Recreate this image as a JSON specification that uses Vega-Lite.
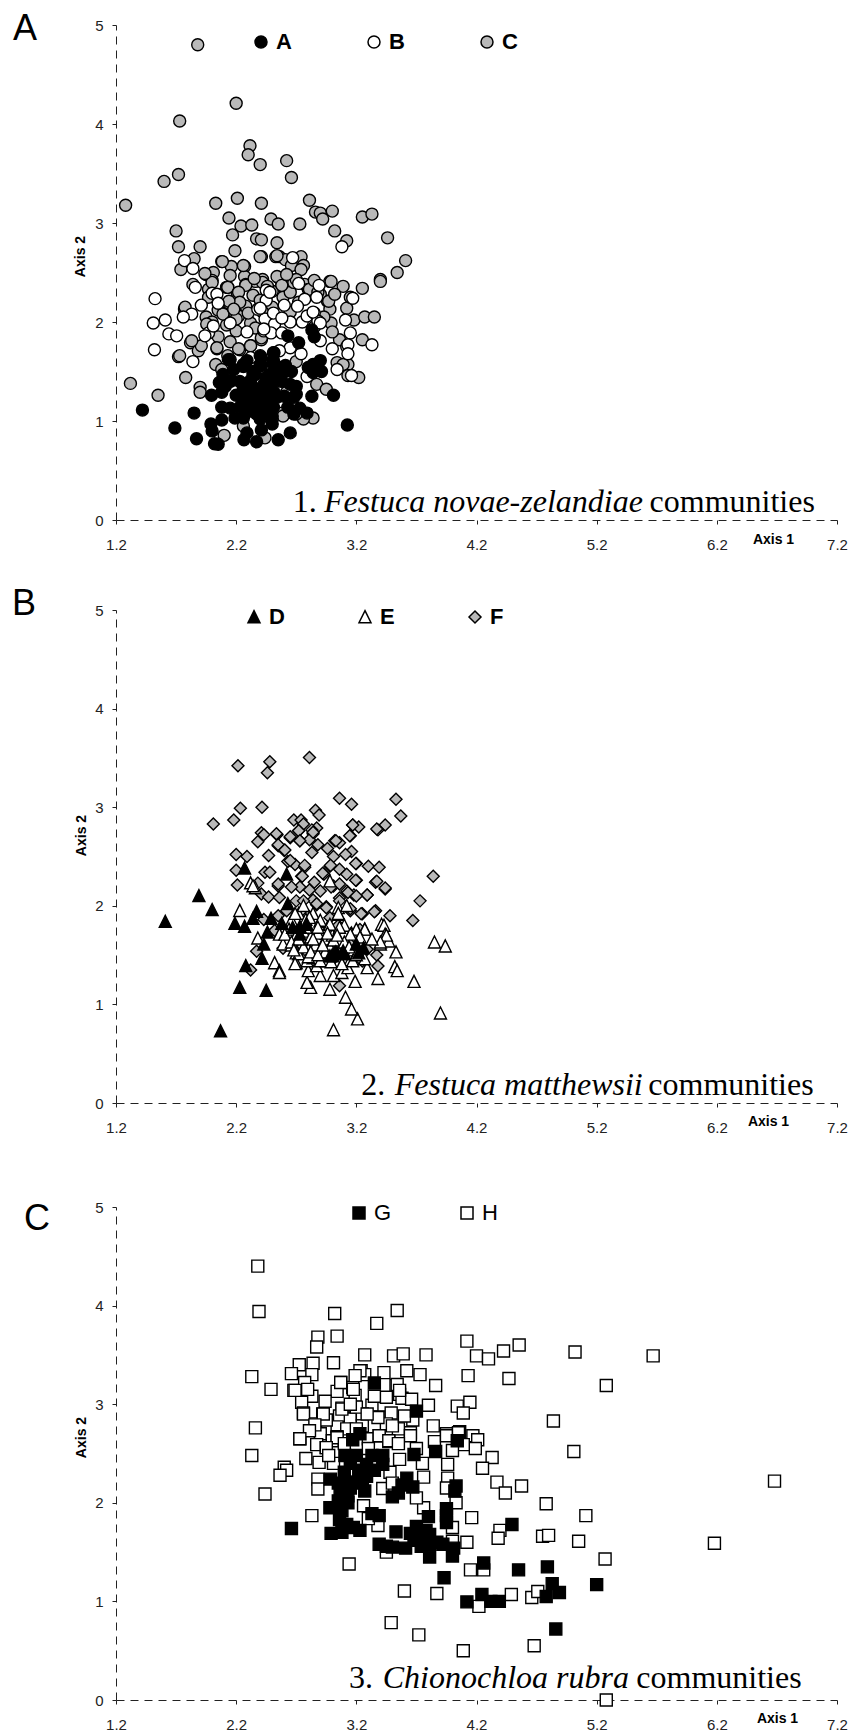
{"$schema":"https://vega.github.io/schema/vega-lite/v6.json","padding":{"left":12,"top":10,"right":0,"bottom":0},"background":"white","config":{"font":"Liberation Sans","view":{"stroke":null},"axis":{"grid":false,"labelFlush":false,"domainColor":"#222","domainDash":[8,6],"domainWidth":1,"tickColor":"#222","tickSize":4,"labelFontSize":15,"labelColor":"#222","titleFontSize":14,"titleFontWeight":"bold","titleColor":"#000"},"legend":{"orient":"none","direction":"horizontal","title":null,"columns":3,"padding":0,"labelFontSize":22,"labelColor":"#000","symbolOpacity":1,"labelOffset":4}},"datasets":{"p1":[
{"x":1.88,"y":4.8,"g":"C"},{"x":2.2,"y":4.21,"g":"C"},{"x":1.73,"y":4.03,"g":"C"},{"x":2.315,"y":3.78,"g":"C"},{"x":2.3,"y":3.69,"g":"C"},{"x":2.4,"y":3.59,"g":"C"},{"x":2.62,"y":3.63,"g":"C"},{"x":2.66,"y":3.46,"g":"C"},{"x":1.72,"y":3.49,"g":"C"},{"x":1.6,"y":3.42,"g":"C"},{"x":1.28,"y":3.18,"g":"C"},{"x":2.03,"y":3.2,"g":"C"},{"x":2.21,"y":3.25,"g":"C"},{"x":2.41,"y":3.2,"g":"C"},{"x":2.81,"y":3.23,"g":"C"},{"x":2.86,"y":3.11,"g":"C"},{"x":2.9,"y":3.1,"g":"C"},{"x":3.0,"y":3.12,"g":"C"},{"x":2.92,"y":3.04,"g":"C"},{"x":3.25,"y":3.06,"g":"C"},{"x":3.33,"y":3.09,"g":"C"},{"x":3.02,"y":2.92,"g":"C"},{"x":3.12,"y":2.82,"g":"C"},{"x":3.46,"y":2.85,"g":"C"},{"x":3.61,"y":2.62,"g":"C"},{"x":3.54,"y":2.5,"g":"C"},{"x":3.4,"y":2.43,"g":"C"},{"x":2.14,"y":3.05,"g":"C"},{"x":2.24,"y":2.97,"g":"C"},{"x":2.33,"y":2.98,"g":"C"},{"x":2.49,"y":3.04,"g":"C"},{"x":2.55,"y":2.99,"g":"C"},{"x":2.73,"y":2.99,"g":"C"},{"x":1.7,"y":2.92,"g":"C"},{"x":1.72,"y":2.76,"g":"C"},{"x":1.9,"y":2.76,"g":"C"},{"x":2.17,"y":2.88,"g":"C"},{"x":2.37,"y":2.84,"g":"C"},{"x":2.41,"y":2.83,"g":"C"},{"x":2.54,"y":2.8,"g":"C"},{"x":2.19,"y":2.72,"g":"C"},{"x":2.41,"y":2.66,"g":"C"},{"x":2.53,"y":2.66,"g":"C"},{"x":2.56,"y":2.66,"g":"C"},{"x":2.61,"y":2.63,"g":"C"},{"x":2.74,"y":2.66,"g":"C"},{"x":2.66,"y":2.57,"g":"C"},{"x":2.76,"y":2.57,"g":"C"},{"x":2.74,"y":2.53,"g":"C"},{"x":2.08,"y":2.61,"g":"C"},{"x":1.85,"y":2.64,"g":"C"},{"x":1.74,"y":2.53,"g":"C"},{"x":1.95,"y":2.48,"g":"C"},{"x":2.01,"y":2.5,"g":"C"},{"x":2.0,"y":2.42,"g":"C"},{"x":2.16,"y":2.56,"g":"C"},{"x":2.15,"y":2.47,"g":"C"},{"x":2.27,"y":2.56,"g":"C"},{"x":2.27,"y":2.46,"g":"C"},{"x":2.28,"y":2.38,"g":"C"},{"x":2.42,"y":2.43,"g":"C"},{"x":2.36,"y":2.41,"g":"C"},{"x":2.55,"y":2.45,"g":"C"},{"x":2.58,"y":2.37,"g":"C"},{"x":2.12,"y":2.35,"g":"C"},{"x":1.97,"y":2.33,"g":"C"},{"x":1.84,"y":2.38,"g":"C"},{"x":2.98,"y":2.41,"g":"C"},{"x":2.77,"y":2.38,"g":"C"},{"x":2.8,"y":2.33,"g":"C"},{"x":3.09,"y":2.36,"g":"C"},{"x":3.25,"y":2.34,"g":"C"},{"x":1.77,"y":2.13,"g":"C"},{"x":1.82,"y":1.79,"g":"C"},{"x":1.885,"y":1.71,"g":"C"},{"x":1.91,"y":1.76,"g":"C"},{"x":1.72,"y":1.65,"g":"C"},{"x":1.78,"y":1.44,"g":"C"},{"x":1.32,"y":1.38,"g":"C"},{"x":1.55,"y":1.26,"g":"C"},{"x":1.9,"y":1.34,"g":"C"},{"x":1.9,"y":1.29,"g":"C"},{"x":2.04,"y":1.73,"g":"C"},{"x":2.03,"y":1.57,"g":"C"},{"x":2.08,"y":1.52,"g":"C"},{"x":2.13,"y":1.66,"g":"C"},{"x":2.23,"y":1.72,"g":"C"},{"x":2.32,"y":1.76,"g":"C"},{"x":2.41,"y":1.82,"g":"C"},{"x":1.96,"y":1.98,"g":"C"},{"x":1.97,"y":2.25,"g":"C"},{"x":2.0,"y":2.4,"g":"C"},{"x":2.13,"y":2.35,"g":"C"},{"x":2.21,"y":2.29,"g":"C"},{"x":2.14,"y":2.19,"g":"C"},{"x":2.23,"y":2.19,"g":"C"},{"x":2.28,"y":2.16,"g":"C"},{"x":2.28,"y":2.37,"g":"C"},{"x":2.34,"y":2.27,"g":"C"},{"x":2.1,"y":2.08,"g":"C"},{"x":2.22,"y":2.06,"g":"C"},{"x":2.12,"y":1.97,"g":"C"},{"x":2.2,"y":1.91,"g":"C"},{"x":2.32,"y":1.99,"g":"C"},{"x":2.36,"y":1.94,"g":"C"},{"x":2.42,"y":2.4,"g":"C"},{"x":2.58,"y":2.36,"g":"C"},{"x":2.5,"y":2.31,"g":"C"},{"x":2.59,"y":2.25,"g":"C"},{"x":2.81,"y":2.33,"g":"C"},{"x":2.96,"y":2.21,"g":"C"},{"x":2.98,"y":2.13,"g":"C"},{"x":3.4,"y":2.41,"g":"C"},{"x":3.12,"y":2.14,"g":"C"},{"x":2.99,"y":1.99,"g":"C"},{"x":3.18,"y":2.02,"g":"C"},{"x":3.27,"y":2.05,"g":"C"},{"x":3.35,"y":2.05,"g":"C"},{"x":3.06,"y":1.82,"g":"C"},{"x":3.25,"y":1.82,"g":"C"},{"x":3.04,"y":1.59,"g":"C"},{"x":3.13,"y":1.57,"g":"C"},{"x":3.09,"y":1.57,"g":"C"},{"x":3.13,"y":1.46,"g":"C"},{"x":3.22,"y":1.44,"g":"C"},{"x":2.87,"y":1.37,"g":"C"},{"x":2.84,"y":1.03,"g":"C"},{"x":2.76,"y":1.02,"g":"C"},{"x":2.7,"y":1.07,"g":"C"},{"x":2.62,"y":1.29,"g":"C"},{"x":2.58,"y":1.08,"g":"C"},{"x":2.26,"y":0.95,"g":"C"},{"x":2.1,"y":0.855,"g":"C"},{"x":2.44,"y":0.83,"g":"C"},{"x":2.59,"y":1.05,"g":"C"},{"x":2.5,"y":1.02,"g":"C"},{"x":2.65,"y":2.3,"g":"C"},{"x":2.72,"y":2.2,"g":"C"},{"x":2.85,"y":2.42,"g":"C"},{"x":2.93,"y":2.05,"g":"C"},{"x":3.0,"y":1.9,"g":"C"},{"x":2.85,"y":1.95,"g":"C"},{"x":2.5,"y":2.15,"g":"C"},{"x":2.42,"y":2.1,"g":"C"},{"x":2.65,"y":2.1,"g":"C"},{"x":2.5,"y":1.98,"g":"C"},{"x":2.05,"y":2.12,"g":"C"},{"x":1.95,"y":2.05,"g":"C"},{"x":2.05,"y":1.85,"g":"C"},{"x":2.15,"y":1.8,"g":"C"},{"x":2.4,"y":2.22,"g":"C"},{"x":2.68,"y":2.42,"g":"C"},{"x":2.9,"y":2.28,"g":"C"},{"x":3.15,"y":2.25,"g":"C"},{"x":3.12,"y":1.75,"g":"C"},{"x":2.95,"y":1.32,"g":"C"},{"x":2.7,"y":1.6,"g":"C"},{"x":2.0,"y":2.0,"g":"C"},{"x":2.085,"y":2.61,"g":"C"},{"x":2.26,"y":2.57,"g":"C"},{"x":2.4,"y":2.66,"g":"C"},{"x":2.54,"y":2.67,"g":"C"},{"x":1.94,"y":2.49,"g":"C"},{"x":2.13,"y":2.35,"g":"C"},{"x":2.54,"y":2.46,"g":"C"},{"x":2.58,"y":2.37,"g":"C"},{"x":2.99,"y":2.41,"g":"C"},{"x":2.22,"y":2.3,"g":"C"},{"x":2.23,"y":2.2,"g":"C"},{"x":2.14,"y":2.21,"g":"C"},{"x":2.09,"y":2.08,"g":"C"},{"x":2.2,"y":2.03,"g":"C"},{"x":1.955,"y":1.98,"g":"C"},{"x":1.775,"y":2.15,"g":"C"},{"x":2.97,"y":2.21,"g":"C"},{"x":2.04,"y":1.74,"g":"C"},{"x":2.22,"y":1.73,"g":"C"},{"x":2.32,"y":1.76,"g":"C"},{"x":2.41,"y":1.84,"g":"C"},{"x":1.83,"y":1.81,"g":"C"},{"x":1.73,"y":1.66,"g":"C"},{"x":2.68,"y":2.4,"g":"C"},{"x":2.7,"y":2.43,"g":"C"},{"x":2.46,"y":2.36,"g":"C"},{"x":2.3,"y":2.09,"g":"C"},{"x":2.18,"y":2.13,"g":"C"},{"x":2.35,"y":2.44,"g":"C"},{"x":2.62,"y":2.48,"g":"C"},{"x":2.88,"y":2.3,"g":"C"},{"x":3.02,"y":2.28,"g":"C"},
{"x":1.77,"y":2.62,"g":"B"},{"x":1.84,"y":2.54,"g":"B"},{"x":1.86,"y":2.35,"g":"B"},{"x":3.08,"y":2.76,"g":"B"},{"x":2.67,"y":2.65,"g":"B"},{"x":2.72,"y":2.39,"g":"B"},{"x":2.89,"y":2.37,"g":"B"},{"x":2.45,"y":2.32,"g":"B"},{"x":2.0,"y":2.29,"g":"B"},{"x":1.525,"y":2.236,"g":"B"},{"x":1.91,"y":2.17,"g":"B"},{"x":1.83,"y":2.08,"g":"B"},{"x":1.76,"y":2.05,"g":"B"},{"x":1.61,"y":2.02,"g":"B"},{"x":1.51,"y":1.99,"g":"B"},{"x":1.64,"y":1.88,"g":"B"},{"x":1.705,"y":1.86,"g":"B"},{"x":1.52,"y":1.72,"g":"B"},{"x":1.84,"y":1.6,"g":"B"},{"x":1.97,"y":1.89,"g":"B"},{"x":2.01,"y":1.96,"g":"B"},{"x":1.94,"y":1.86,"g":"B"},{"x":2.04,"y":2.28,"g":"B"},{"x":2.05,"y":2.19,"g":"B"},{"x":2.15,"y":1.99,"g":"B"},{"x":2.29,"y":1.9,"g":"B"},{"x":2.45,"y":2.22,"g":"B"},{"x":2.48,"y":2.3,"g":"B"},{"x":2.6,"y":2.17,"g":"B"},{"x":2.87,"y":2.25,"g":"B"},{"x":2.77,"y":2.23,"g":"B"},{"x":2.71,"y":2.16,"g":"B"},{"x":2.38,"y":2.13,"g":"B"},{"x":2.44,"y":2.03,"g":"B"},{"x":2.52,"y":1.98,"g":"B"},{"x":2.43,"y":1.91,"g":"B"},{"x":2.49,"y":1.89,"g":"B"},{"x":2.58,"y":1.89,"g":"B"},{"x":2.65,"y":2.0,"g":"B"},{"x":2.75,"y":2.0,"g":"B"},{"x":2.79,"y":2.06,"g":"B"},{"x":2.85,"y":2.09,"g":"B"},{"x":2.88,"y":2.01,"g":"B"},{"x":2.51,"y":2.09,"g":"B"},{"x":2.58,"y":2.04,"g":"B"},{"x":3.11,"y":2.02,"g":"B"},{"x":3.17,"y":2.24,"g":"B"},{"x":3.15,"y":1.89,"g":"B"},{"x":3.13,"y":1.77,"g":"B"},{"x":3.13,"y":1.68,"g":"B"},{"x":3.33,"y":1.77,"g":"B"},{"x":3.0,"y":1.73,"g":"B"},{"x":3.04,"y":1.52,"g":"B"},{"x":3.16,"y":1.46,"g":"B"},{"x":2.65,"y":1.74,"g":"B"},{"x":2.74,"y":1.68,"g":"B"},{"x":2.9,"y":1.81,"g":"B"},{"x":2.79,"y":1.45,"g":"B"},{"x":2.32,"y":1.64,"g":"B"},{"x":2.56,"y":1.71,"g":"B"},{"x":2.4,"y":2.14,"g":"B"},{"x":2.43,"y":1.93,"g":"B"},{"x":2.9,"y":1.99,"g":"B"},{"x":2.84,"y":2.1,"g":"B"},
{"x":1.42,"y":1.11,"g":"A"},{"x":1.85,"y":1.08,"g":"A"},{"x":1.69,"y":0.93,"g":"A"},{"x":1.87,"y":0.82,"g":"A"},{"x":2.02,"y":0.77,"g":"A"},{"x":2.05,"y":0.765,"g":"A"},{"x":1.99,"y":0.97,"g":"A"},{"x":2.0,"y":0.9,"g":"A"},{"x":2.265,"y":0.81,"g":"A"},{"x":2.29,"y":0.88,"g":"A"},{"x":2.37,"y":0.79,"g":"A"},{"x":2.41,"y":0.91,"g":"A"},{"x":2.55,"y":0.81,"g":"A"},{"x":2.65,"y":0.88,"g":"A"},{"x":3.01,"y":1.26,"g":"A"},{"x":3.125,"y":0.96,"g":"A"},{"x":2.83,"y":1.25,"g":"A"},{"x":2.79,"y":1.08,"g":"A"},{"x":2.73,"y":1.13,"g":"A"},{"x":2.63,"y":1.14,"g":"A"},{"x":2.68,"y":1.24,"g":"A"},{"x":2.7,"y":1.35,"g":"A"},{"x":2.5,"y":0.97,"g":"A"},{"x":2.5,"y":1.05,"g":"A"},{"x":2.37,"y":1.07,"g":"A"},{"x":2.28,"y":1.08,"g":"A"},{"x":2.19,"y":1.03,"g":"A"},{"x":2.08,"y":1.01,"g":"A"},{"x":2.08,"y":1.14,"g":"A"},{"x":2.15,"y":1.13,"g":"A"},{"x":1.995,"y":1.26,"g":"A"},{"x":2.08,"y":1.29,"g":"A"},{"x":2.06,"y":1.39,"g":"A"},{"x":2.11,"y":1.35,"g":"A"},{"x":2.16,"y":1.41,"g":"A"},{"x":2.26,"y":1.22,"g":"A"},{"x":2.26,"y":1.32,"g":"A"},{"x":2.34,"y":1.34,"g":"A"},{"x":2.43,"y":1.37,"g":"A"},{"x":2.51,"y":1.4,"g":"A"},{"x":2.58,"y":1.4,"g":"A"},{"x":2.37,"y":1.2,"g":"A"},{"x":2.45,"y":1.2,"g":"A"},{"x":2.54,"y":1.24,"g":"A"},{"x":2.43,"y":1.12,"g":"A"},{"x":2.33,"y":1.14,"g":"A"},{"x":2.51,"y":1.14,"g":"A"},{"x":2.135,"y":1.62,"g":"A"},{"x":2.18,"y":1.52,"g":"A"},{"x":2.26,"y":1.55,"g":"A"},{"x":2.4,"y":1.66,"g":"A"},{"x":2.51,"y":1.69,"g":"A"},{"x":2.41,"y":1.56,"g":"A"},{"x":2.51,"y":1.57,"g":"A"},{"x":2.61,"y":1.56,"g":"A"},{"x":2.66,"y":1.5,"g":"A"},{"x":2.36,"y":1.47,"g":"A"},{"x":2.48,"y":1.47,"g":"A"},{"x":2.58,"y":1.47,"g":"A"},{"x":2.63,"y":1.86,"g":"A"},{"x":2.72,"y":1.79,"g":"A"},{"x":2.83,"y":1.92,"g":"A"},{"x":2.85,"y":1.85,"g":"A"},{"x":2.84,"y":1.57,"g":"A"},{"x":2.9,"y":1.61,"g":"A"},{"x":2.91,"y":1.5,"g":"A"},{"x":2.84,"y":1.49,"g":"A"},{"x":2.8,"y":1.54,"g":"A"},{"x":2.32,"y":1.41,"g":"A"},{"x":2.45,"y":1.3,"g":"A"},{"x":2.29,"y":1.2,"g":"A"},{"x":2.23,"y":1.4,"g":"A"},{"x":2.34,"y":1.47,"g":"A"},{"x":2.29,"y":1.3,"g":"A"},{"x":2.43,"y":1.27,"g":"A"},{"x":2.51,"y":1.3,"g":"A"},{"x":2.45,"y":1.44,"g":"A"},{"x":2.23,"y":1.14,"g":"A"},{"x":2.37,"y":1.27,"g":"A"},{"x":2.56,"y":1.51,"g":"A"},{"x":2.65,"y":1.37,"g":"A"},{"x":2.7,"y":1.27,"g":"A"},{"x":2.15,"y":1.4,"g":"A"},{"x":2.29,"y":1.61,"g":"A"},{"x":2.51,"y":1.61,"g":"A"},{"x":2.4,"y":1.57,"g":"A"},{"x":2.37,"y":1.17,"g":"A"},{"x":2.48,"y":1.07,"g":"A"},{"x":2.26,"y":1.03,"g":"A"},{"x":2.68,"y":1.07,"g":"A"},{"x":2.15,"y":1.62,"g":"A"},{"x":2.41,"y":1.64,"g":"A"},{"x":2.515,"y":1.69,"g":"A"},{"x":2.26,"y":1.57,"g":"A"},{"x":2.34,"y":1.5,"g":"A"},{"x":2.565,"y":1.54,"g":"A"},{"x":2.09,"y":1.47,"g":"A"},{"x":2.4,"y":1.02,"g":"A"},{"x":2.6,"y":1.25,"g":"A"},{"x":2.2,"y":1.26,"g":"A"},{"x":2.31,"y":1.24,"g":"A"}
],"p2":[
{"x":2.215,"y":3.42,"g":"F"},{"x":2.48,"y":3.46,"g":"F"},{"x":2.46,"y":3.35,"g":"F"},{"x":2.81,"y":3.505,"g":"F"},{"x":3.06,"y":3.09,"g":"F"},{"x":3.16,"y":3.03,"g":"F"},{"x":3.53,"y":3.08,"g":"F"},{"x":3.57,"y":2.91,"g":"F"},{"x":2.235,"y":2.99,"g":"F"},{"x":2.415,"y":3.0,"g":"F"},{"x":2.18,"y":2.87,"g":"F"},{"x":2.01,"y":2.83,"g":"F"},{"x":2.86,"y":2.97,"g":"F"},{"x":2.89,"y":2.92,"g":"F"},{"x":2.68,"y":2.87,"g":"F"},{"x":2.74,"y":2.87,"g":"F"},{"x":2.76,"y":2.83,"g":"F"},{"x":2.87,"y":2.79,"g":"F"},{"x":2.72,"y":2.76,"g":"F"},{"x":2.83,"y":2.77,"g":"F"},{"x":2.84,"y":2.73,"g":"F"},{"x":3.17,"y":2.82,"g":"F"},{"x":3.22,"y":2.8,"g":"F"},{"x":3.44,"y":2.82,"g":"F"},{"x":3.38,"y":2.77,"g":"F"},{"x":3.15,"y":2.71,"g":"F"},{"x":2.41,"y":2.74,"g":"F"},{"x":2.43,"y":2.72,"g":"F"},{"x":2.38,"y":2.65,"g":"F"},{"x":2.54,"y":2.72,"g":"F"},{"x":2.65,"y":2.69,"g":"F"},{"x":2.73,"y":2.66,"g":"F"},{"x":2.81,"y":2.67,"g":"F"},{"x":2.88,"y":2.62,"g":"F"},{"x":3.02,"y":2.66,"g":"F"},{"x":3.06,"y":2.64,"g":"F"},{"x":2.55,"y":2.61,"g":"F"},{"x":2.6,"y":2.56,"g":"F"},{"x":2.83,"y":2.54,"g":"F"},{"x":2.96,"y":2.58,"g":"F"},{"x":3.01,"y":2.5,"g":"F"},{"x":3.16,"y":2.55,"g":"F"},{"x":3.11,"y":2.52,"g":"F"},{"x":2.2,"y":2.52,"g":"F"},{"x":2.29,"y":2.5,"g":"F"},{"x":2.47,"y":2.51,"g":"F"},{"x":2.63,"y":2.45,"g":"F"},{"x":2.69,"y":2.42,"g":"F"},{"x":2.77,"y":2.39,"g":"F"},{"x":2.98,"y":2.4,"g":"F"},{"x":3.2,"y":2.43,"g":"F"},{"x":3.3,"y":2.4,"g":"F"},{"x":3.39,"y":2.39,"g":"F"},{"x":3.84,"y":2.3,"g":"F"},{"x":2.2,"y":2.36,"g":"F"},{"x":2.44,"y":2.34,"g":"F"},{"x":2.48,"y":2.34,"g":"F"},{"x":2.745,"y":2.3,"g":"F"},{"x":2.93,"y":2.32,"g":"F"},{"x":3.06,"y":2.37,"g":"F"},{"x":3.2,"y":2.26,"g":"F"},{"x":3.36,"y":2.24,"g":"F"},{"x":3.44,"y":2.17,"g":"F"},{"x":2.21,"y":2.21,"g":"F"},{"x":2.38,"y":2.23,"g":"F"},{"x":2.55,"y":2.2,"g":"F"},{"x":2.73,"y":2.19,"g":"F"},{"x":2.9,"y":2.15,"g":"F"},{"x":3.01,"y":2.2,"g":"F"},{"x":3.12,"y":2.15,"g":"F"},{"x":3.29,"y":2.11,"g":"F"},{"x":3.73,"y":2.05,"g":"F"},{"x":2.41,"y":2.12,"g":"F"},{"x":2.47,"y":2.09,"g":"F"},{"x":2.84,"y":2.06,"g":"F"},{"x":3.06,"y":2.08,"g":"F"},{"x":3.18,"y":2.11,"g":"F"},{"x":2.95,"y":1.99,"g":"F"},{"x":2.87,"y":2.01,"g":"F"},{"x":3.36,"y":1.95,"g":"F"},{"x":3.48,"y":1.9,"g":"F"},{"x":3.67,"y":1.85,"g":"F"},{"x":3.25,"y":1.92,"g":"F"},{"x":3.37,"y":1.5,"g":"F"},{"x":3.38,"y":1.39,"g":"F"},{"x":3.25,"y":1.44,"g":"F"},{"x":2.37,"y":1.54,"g":"F"},{"x":2.32,"y":1.35,"g":"F"},{"x":3.06,"y":1.19,"g":"F"},{"x":2.43,"y":1.86,"g":"F"},{"x":2.7,"y":2.05,"g":"F"},{"x":3.15,"y":1.95,"g":"F"},{"x":2.98,"y":1.88,"g":"F"},{"x":3.23,"y":1.76,"g":"F"},{"x":3.29,"y":1.56,"g":"F"},{"x":2.59,"y":1.57,"g":"F"},{"x":2.55,"y":1.9,"g":"F"},{"x":2.62,"y":1.95,"g":"F"},{"x":2.8,"y":1.9,"g":"F"},{"x":3.05,"y":1.8,"g":"F"},{"x":2.535,"y":2.73,"g":"F"},{"x":2.65,"y":2.7,"g":"F"},{"x":2.72,"y":2.76,"g":"F"},{"x":2.84,"y":2.745,"g":"F"},{"x":2.73,"y":2.66,"g":"F"},{"x":2.55,"y":2.62,"g":"F"},{"x":2.605,"y":2.565,"g":"F"},{"x":3.03,"y":2.66,"g":"F"},{"x":3.145,"y":2.71,"g":"F"},{"x":3.17,"y":2.82,"g":"F"},{"x":3.195,"y":2.43,"g":"F"},{"x":3.37,"y":2.78,"g":"F"},{"x":3.37,"y":2.25,"g":"F"},{"x":3.44,"y":2.18,"g":"F"},{"x":3.29,"y":2.11,"g":"F"},{"x":3.35,"y":1.94,"g":"F"},{"x":2.65,"y":2.46,"g":"F"},{"x":2.77,"y":2.41,"g":"F"},{"x":2.75,"y":2.3,"g":"F"},{"x":2.92,"y":2.33,"g":"F"},{"x":2.985,"y":2.41,"g":"F"},{"x":3.12,"y":2.32,"g":"F"},{"x":3.195,"y":2.26,"g":"F"},{"x":2.85,"y":2.24,"g":"F"},{"x":2.55,"y":2.22,"g":"F"},{"x":2.66,"y":2.19,"g":"F"},{"x":2.99,"y":2.19,"g":"F"},{"x":3.06,"y":2.22,"g":"F"},{"x":2.81,"y":2.16,"g":"F"},{"x":3.13,"y":2.135,"g":"F"},{"x":3.2,"y":2.1,"g":"F"},{"x":2.56,"y":2.085,"g":"F"},{"x":2.76,"y":2.05,"g":"F"},{"x":2.87,"y":2.02,"g":"F"},{"x":3.06,"y":2.05,"g":"F"},{"x":3.15,"y":1.97,"g":"F"},{"x":3.24,"y":1.92,"g":"F"},{"x":2.95,"y":1.98,"g":"F"},{"x":2.52,"y":1.75,"g":"F"},{"x":2.9,"y":1.72,"g":"F"},{"x":3.14,"y":1.62,"g":"F"},{"x":2.78,"y":1.55,"g":"F"},{"x":2.96,"y":1.45,"g":"F"},
{"x":2.23,"y":1.95,"g":"E"},{"x":2.38,"y":1.67,"g":"E"},{"x":2.52,"y":1.42,"g":"E"},{"x":2.56,"y":1.34,"g":"E"},{"x":2.56,"y":1.32,"g":"E"},{"x":3.85,"y":1.63,"g":"E"},{"x":3.94,"y":1.59,"g":"E"},{"x":3.53,"y":1.53,"g":"E"},{"x":3.52,"y":1.38,"g":"E"},{"x":3.54,"y":1.34,"g":"E"},{"x":3.68,"y":1.23,"g":"E"},{"x":3.9,"y":0.91,"g":"E"},{"x":3.01,"y":0.74,"g":"E"},{"x":3.21,"y":0.85,"g":"E"},{"x":3.16,"y":0.95,"g":"E"},{"x":3.11,"y":1.07,"g":"E"},{"x":3.19,"y":1.23,"g":"E"},{"x":3.38,"y":1.26,"g":"E"},{"x":3.29,"y":1.37,"g":"E"},{"x":2.98,"y":1.15,"g":"E"},{"x":2.82,"y":1.17,"g":"E"},{"x":2.79,"y":1.22,"g":"E"},{"x":2.9,"y":1.29,"g":"E"},{"x":3.01,"y":1.29,"g":"E"},{"x":3.08,"y":1.32,"g":"E"},{"x":3.13,"y":1.37,"g":"E"},{"x":2.8,"y":1.34,"g":"E"},{"x":2.7,"y":1.42,"g":"E"},{"x":3.41,"y":1.81,"g":"E"},{"x":3.43,"y":1.8,"g":"E"},{"x":3.44,"y":1.71,"g":"E"},{"x":3.47,"y":1.64,"g":"E"},{"x":3.4,"y":1.61,"g":"E"},{"x":3.27,"y":1.76,"g":"E"},{"x":2.56,"y":1.71,"g":"E"},{"x":2.59,"y":1.61,"g":"E"},{"x":2.7,"y":1.52,"g":"E"},{"x":2.79,"y":1.44,"g":"E"},{"x":2.87,"y":1.39,"g":"E"},{"x":2.95,"y":1.44,"g":"E"},{"x":3.06,"y":1.44,"g":"E"},{"x":3.15,"y":1.45,"g":"E"},{"x":2.32,"y":2.23,"g":"E"},{"x":2.36,"y":2.18,"g":"E"},{"x":2.34,"y":2.2,"g":"E"},{"x":2.66,"y":1.85,"g":"E"},{"x":2.72,"y":1.92,"g":"E"},{"x":2.78,"y":1.86,"g":"E"},{"x":2.84,"y":1.92,"g":"E"},{"x":2.9,"y":1.84,"g":"E"},{"x":2.96,"y":1.78,"g":"E"},{"x":3.05,"y":1.91,"g":"E"},{"x":3.1,"y":1.8,"g":"E"},{"x":3.16,"y":1.72,"g":"E"},{"x":2.64,"y":1.76,"g":"E"},{"x":2.7,"y":1.7,"g":"E"},{"x":2.76,"y":1.74,"g":"E"},{"x":2.82,"y":1.68,"g":"E"},{"x":2.88,"y":1.72,"g":"E"},{"x":2.94,"y":1.66,"g":"E"},{"x":3.0,"y":1.7,"g":"E"},{"x":3.06,"y":1.65,"g":"E"},{"x":3.12,"y":1.62,"g":"E"},{"x":3.22,"y":1.66,"g":"E"},{"x":2.66,"y":1.6,"g":"E"},{"x":2.74,"y":1.6,"g":"E"},{"x":2.8,"y":1.56,"g":"E"},{"x":2.86,"y":1.6,"g":"E"},{"x":2.92,"y":1.54,"g":"E"},{"x":2.98,"y":1.58,"g":"E"},{"x":3.04,"y":1.56,"g":"E"},{"x":3.1,"y":1.52,"g":"E"},{"x":3.18,"y":1.55,"g":"E"},{"x":3.24,"y":1.6,"g":"E"},{"x":2.84,"y":1.47,"g":"E"},{"x":3.0,"y":1.5,"g":"E"},{"x":3.05,"y":1.98,"g":"E"},{"x":3.12,"y":2.0,"g":"E"},{"x":3.45,"y":1.7,"g":"E"},{"x":3.4,"y":1.63,"g":"E"},{"x":3.27,"y":1.76,"g":"E"},{"x":3.2,"y":1.76,"g":"E"},{"x":3.33,"y":1.66,"g":"E"},{"x":2.98,"y":2.25,"g":"E"},{"x":3.05,"y":1.92,"g":"E"},{"x":2.76,"y":2.0,"g":"E"},{"x":2.69,"y":1.92,"g":"E"},{"x":2.81,"y":1.88,"g":"E"},{"x":2.9,"y":1.85,"g":"E"},{"x":2.98,"y":1.81,"g":"E"},{"x":3.06,"y":1.78,"g":"E"},{"x":3.15,"y":1.71,"g":"E"},{"x":3.23,"y":1.68,"g":"E"},{"x":2.605,"y":1.71,"g":"E"},{"x":2.66,"y":1.63,"g":"E"},{"x":2.72,"y":1.51,"g":"E"},{"x":2.8,"y":1.48,"g":"E"},{"x":2.9,"y":1.44,"g":"E"},{"x":2.99,"y":1.43,"g":"E"},{"x":3.08,"y":1.41,"g":"E"},{"x":3.17,"y":1.44,"g":"E"},{"x":3.27,"y":1.46,"g":"E"},{"x":2.69,"y":1.41,"g":"E"},{"x":2.84,"y":1.66,"g":"E"},{"x":3.01,"y":1.65,"g":"E"},{"x":3.1,"y":1.63,"g":"E"},{"x":2.76,"y":1.58,"g":"E"},{"x":2.94,"y":1.53,"g":"E"},{"x":2.72,"y":1.66,"g":"E"},{"x":2.78,"y":1.78,"g":"E"},{"x":2.88,"y":1.78,"g":"E"},{"x":2.96,"y":1.72,"g":"E"},{"x":3.04,"y":1.7,"g":"E"},{"x":2.68,"y":1.55,"g":"E"},{"x":2.82,"y":1.53,"g":"E"},{"x":2.88,"y":1.5,"g":"E"},{"x":2.92,"y":1.6,"g":"E"},{"x":3.02,"y":1.52,"g":"E"},{"x":3.14,"y":1.58,"g":"E"},{"x":3.2,"y":1.5,"g":"E"},
{"x":1.89,"y":2.1,"g":"D"},{"x":2.0,"y":1.96,"g":"D"},{"x":1.61,"y":1.84,"g":"D"},{"x":2.19,"y":1.82,"g":"D"},{"x":2.27,"y":1.79,"g":"D"},{"x":2.37,"y":1.94,"g":"D"},{"x":2.34,"y":1.87,"g":"D"},{"x":2.49,"y":1.87,"g":"D"},{"x":2.58,"y":1.82,"g":"D"},{"x":2.46,"y":1.73,"g":"D"},{"x":2.43,"y":1.61,"g":"D"},{"x":2.415,"y":1.465,"g":"D"},{"x":2.28,"y":1.39,"g":"D"},{"x":2.23,"y":1.17,"g":"D"},{"x":2.45,"y":1.14,"g":"D"},{"x":2.07,"y":0.73,"g":"D"},{"x":2.63,"y":2.02,"g":"D"},{"x":2.27,"y":2.38,"g":"D"},{"x":2.62,"y":2.32,"g":"D"},{"x":2.73,"y":1.79,"g":"D"},{"x":2.79,"y":1.81,"g":"D"},{"x":3.04,"y":1.52,"g":"D"},{"x":3.09,"y":1.54,"g":"D"},{"x":3.26,"y":1.57,"g":"D"},{"x":3.2,"y":1.61,"g":"D"},{"x":3.0,"y":1.49,"g":"D"},{"x":2.73,"y":1.71,"g":"D"},{"x":3.22,"y":1.52,"g":"D"},{"x":3.03,"y":1.53,"g":"D"},{"x":2.98,"y":1.49,"g":"D"},{"x":3.1,"y":1.51,"g":"D"},{"x":2.67,"y":1.78,"g":"D"}
],"p3":[
{"x":2.38,"y":4.4,"g":"H"},{"x":2.39,"y":3.94,"g":"H"},{"x":3.02,"y":3.92,"g":"H"},{"x":3.54,"y":3.95,"g":"H"},{"x":3.37,"y":3.82,"g":"H"},{"x":2.88,"y":3.68,"g":"H"},{"x":2.87,"y":3.58,"g":"H"},{"x":3.04,"y":3.69,"g":"H"},{"x":4.12,"y":3.64,"g":"H"},{"x":4.2,"y":3.49,"g":"H"},{"x":4.3,"y":3.46,"g":"H"},{"x":4.425,"y":3.54,"g":"H"},{"x":4.555,"y":3.6,"g":"H"},{"x":5.02,"y":3.53,"g":"H"},{"x":5.67,"y":3.49,"g":"H"},{"x":5.28,"y":3.19,"g":"H"},{"x":3.27,"y":3.5,"g":"H"},{"x":3.51,"y":3.49,"g":"H"},{"x":3.59,"y":3.51,"g":"H"},{"x":3.78,"y":3.5,"g":"H"},{"x":2.725,"y":3.4,"g":"H"},{"x":2.84,"y":3.415,"g":"H"},{"x":3.01,"y":3.42,"g":"H"},{"x":2.66,"y":3.31,"g":"H"},{"x":2.83,"y":3.3,"g":"H"},{"x":2.33,"y":3.28,"g":"H"},{"x":2.49,"y":3.15,"g":"H"},{"x":4.13,"y":3.29,"g":"H"},{"x":4.47,"y":3.26,"g":"H"},{"x":3.24,"y":3.34,"g":"H"},{"x":3.27,"y":3.3,"g":"H"},{"x":3.43,"y":3.32,"g":"H"},{"x":3.62,"y":3.34,"g":"H"},{"x":3.73,"y":3.3,"g":"H"},{"x":3.86,"y":3.19,"g":"H"},{"x":2.68,"y":3.14,"g":"H"},{"x":2.79,"y":3.15,"g":"H"},{"x":3.07,"y":3.22,"g":"H"},{"x":3.04,"y":3.13,"g":"H"},{"x":3.17,"y":3.17,"g":"H"},{"x":3.53,"y":3.19,"g":"H"},{"x":2.83,"y":3.08,"g":"H"},{"x":2.745,"y":3.02,"g":"H"},{"x":2.94,"y":3.03,"g":"H"},{"x":3.19,"y":3.09,"g":"H"},{"x":3.33,"y":2.99,"g":"H"},{"x":3.19,"y":2.97,"g":"H"},{"x":3.08,"y":2.96,"g":"H"},{"x":3.56,"y":3.1,"g":"H"},{"x":3.58,"y":3.06,"g":"H"},{"x":3.66,"y":3.05,"g":"H"},{"x":3.8,"y":2.99,"g":"H"},{"x":4.04,"y":2.98,"g":"H"},{"x":4.145,"y":3.02,"g":"H"},{"x":4.09,"y":2.91,"g":"H"},{"x":4.84,"y":2.83,"g":"H"},{"x":2.76,"y":2.91,"g":"H"},{"x":2.92,"y":2.9,"g":"H"},{"x":3.06,"y":2.88,"g":"H"},{"x":3.39,"y":2.87,"g":"H"},{"x":3.49,"y":2.91,"g":"H"},{"x":3.67,"y":2.84,"g":"H"},{"x":2.86,"y":2.8,"g":"H"},{"x":2.36,"y":2.76,"g":"H"},{"x":3.04,"y":2.77,"g":"H"},{"x":3.84,"y":2.78,"g":"H"},{"x":3.65,"y":2.71,"g":"H"},{"x":4.06,"y":2.72,"g":"H"},{"x":3.95,"y":2.7,"g":"H"},{"x":2.95,"y":2.84,"g":"H"},{"x":3.15,"y":2.85,"g":"H"},{"x":3.25,"y":2.9,"g":"H"},{"x":3.45,"y":2.8,"g":"H"},{"x":3.55,"y":2.75,"g":"H"},{"x":3.12,"y":2.75,"g":"H"},{"x":3.25,"y":2.78,"g":"H"},{"x":2.9,"y":2.7,"g":"H"},{"x":3.0,"y":2.63,"g":"H"},{"x":3.3,"y":2.65,"g":"H"},{"x":2.33,"y":2.48,"g":"H"},{"x":2.73,"y":2.65,"g":"H"},{"x":2.87,"y":2.59,"g":"H"},{"x":2.95,"y":2.56,"g":"H"},{"x":3.04,"y":2.67,"g":"H"},{"x":3.39,"y":2.68,"g":"H"},{"x":3.47,"y":2.62,"g":"H"},{"x":3.65,"y":2.68,"g":"H"},{"x":3.85,"y":2.62,"g":"H"},{"x":3.95,"y":2.68,"g":"H"},{"x":4.05,"y":2.71,"g":"H"},{"x":4.17,"y":2.68,"g":"H"},{"x":4.21,"y":2.64,"g":"H"},{"x":4.19,"y":2.55,"g":"H"},{"x":4.09,"y":2.59,"g":"H"},{"x":4.0,"y":2.53,"g":"H"},{"x":4.33,"y":2.46,"g":"H"},{"x":4.25,"y":2.35,"g":"H"},{"x":3.96,"y":2.39,"g":"H"},{"x":3.96,"y":2.25,"g":"H"},{"x":3.76,"y":2.26,"g":"H"},{"x":3.56,"y":2.44,"g":"H"},{"x":2.6,"y":2.36,"g":"H"},{"x":2.62,"y":2.33,"g":"H"},{"x":2.565,"y":2.28,"g":"H"},{"x":2.44,"y":2.09,"g":"H"},{"x":2.89,"y":2.41,"g":"H"},{"x":3.01,"y":2.4,"g":"H"},{"x":2.88,"y":2.24,"g":"H"},{"x":2.88,"y":2.14,"g":"H"},{"x":3.42,"y":2.145,"g":"H"},{"x":3.48,"y":2.31,"g":"H"},{"x":3.26,"y":1.97,"g":"H"},{"x":3.76,"y":1.95,"g":"H"},{"x":4.03,"y":2.0,"g":"H"},{"x":4.37,"y":2.21,"g":"H"},{"x":4.44,"y":2.1,"g":"H"},{"x":4.575,"y":2.17,"g":"H"},{"x":4.78,"y":1.99,"g":"H"},{"x":5.11,"y":1.87,"g":"H"},{"x":5.01,"y":2.52,"g":"H"},{"x":2.83,"y":1.87,"g":"H"},{"x":4.16,"y":1.85,"g":"H"},{"x":4.395,"y":1.72,"g":"H"},{"x":4.38,"y":1.64,"g":"H"},{"x":4.75,"y":1.66,"g":"H"},{"x":4.8,"y":1.67,"g":"H"},{"x":5.05,"y":1.61,"g":"H"},{"x":5.27,"y":1.43,"g":"H"},{"x":4.12,"y":1.6,"g":"H"},{"x":4.0,"y":1.75,"g":"H"},{"x":4.0,"y":1.61,"g":"H"},{"x":3.38,"y":1.77,"g":"H"},{"x":3.3,"y":1.84,"g":"H"},{"x":3.14,"y":1.38,"g":"H"},{"x":4.15,"y":1.32,"g":"H"},{"x":4.26,"y":1.32,"g":"H"},{"x":3.45,"y":1.5,"g":"H"},{"x":3.6,"y":1.106,"g":"H"},{"x":3.87,"y":1.08,"g":"H"},{"x":4.49,"y":1.07,"g":"H"},{"x":4.66,"y":1.04,"g":"H"},{"x":4.71,"y":1.1,"g":"H"},{"x":4.22,"y":0.95,"g":"H"},{"x":3.49,"y":0.785,"g":"H"},{"x":3.72,"y":0.66,"g":"H"},{"x":4.09,"y":0.5,"g":"H"},{"x":4.68,"y":0.55,"g":"H"},{"x":6.18,"y":1.59,"g":"H"},{"x":6.68,"y":2.22,"g":"H"},{"x":5.28,"y":0.0,"g":"H"},{"x":2.77,"y":3.22,"g":"H"},{"x":2.69,"y":3.14,"g":"H"},{"x":2.795,"y":3.15,"g":"H"},{"x":2.76,"y":2.9,"g":"H"},{"x":2.925,"y":2.9,"g":"H"},{"x":3.07,"y":3.22,"g":"H"},{"x":3.08,"y":2.95,"g":"H"},{"x":3.2,"y":2.97,"g":"H"},{"x":3.175,"y":3.15,"g":"H"},{"x":2.855,"y":2.79,"g":"H"},{"x":2.81,"y":2.73,"g":"H"},{"x":2.73,"y":2.65,"g":"H"},{"x":3.04,"y":2.66,"g":"H"},{"x":2.95,"y":2.56,"g":"H"},{"x":3.38,"y":2.865,"g":"H"},{"x":3.5,"y":2.78,"g":"H"},{"x":3.39,"y":2.68,"g":"H"},{"x":3.47,"y":2.63,"g":"H"},{"x":3.54,"y":3.2,"g":"H"},{"x":3.56,"y":3.14,"g":"H"},{"x":3.23,"y":3.34,"g":"H"},{"x":3.19,"y":3.29,"g":"H"},{"x":3.15,"y":3.0,"g":"H"},{"x":3.29,"y":2.9,"g":"H"},{"x":3.45,"y":3.07,"g":"H"},{"x":3.35,"y":3.08,"g":"H"},{"x":3.1,"y":2.6,"g":"H"},{"x":3.2,"y":2.75,"g":"H"},{"x":3.3,"y":2.55,"g":"H"},{"x":3.55,"y":2.6,"g":"H"},{"x":3.7,"y":2.55,"g":"H"},{"x":3.75,"y":2.4,"g":"H"},{"x":3.5,"y":2.2,"g":"H"},{"x":2.97,"y":2.48,"g":"H"},{"x":3.6,"y":2.88,"g":"H"},{"x":2.78,"y":2.45,"g":"H"},{"x":3.95,"y":2.15,"g":"H"},{"x":3.7,"y":2.05,"g":"H"},
{"x":3.35,"y":3.215,"g":"G"},{"x":3.7,"y":2.93,"g":"G"},{"x":3.23,"y":2.7,"g":"G"},{"x":3.17,"y":2.64,"g":"G"},{"x":3.105,"y":2.48,"g":"G"},{"x":3.2,"y":2.48,"g":"G"},{"x":3.33,"y":2.48,"g":"G"},{"x":3.42,"y":2.48,"g":"G"},{"x":3.68,"y":2.49,"g":"G"},{"x":3.86,"y":2.52,"g":"G"},{"x":4.04,"y":2.63,"g":"G"},{"x":3.42,"y":2.39,"g":"G"},{"x":3.285,"y":2.39,"g":"G"},{"x":3.1,"y":2.31,"g":"G"},{"x":3.285,"y":2.27,"g":"G"},{"x":2.985,"y":2.24,"g":"G"},{"x":3.105,"y":2.21,"g":"G"},{"x":3.19,"y":2.21,"g":"G"},{"x":3.27,"y":2.12,"g":"G"},{"x":3.065,"y":2.12,"g":"G"},{"x":3.13,"y":2.07,"g":"G"},{"x":3.62,"y":2.25,"g":"G"},{"x":3.67,"y":2.16,"g":"G"},{"x":3.55,"y":2.1,"g":"G"},{"x":3.5,"y":2.06,"g":"G"},{"x":4.03,"y":2.17,"g":"G"},{"x":4.02,"y":2.12,"g":"G"},{"x":2.98,"y":1.95,"g":"G"},{"x":3.08,"y":1.92,"g":"G"},{"x":3.06,"y":1.83,"g":"G"},{"x":3.33,"y":1.89,"g":"G"},{"x":3.39,"y":1.87,"g":"G"},{"x":3.8,"y":1.86,"g":"G"},{"x":3.95,"y":1.94,"g":"G"},{"x":3.95,"y":1.87,"g":"G"},{"x":3.95,"y":1.8,"g":"G"},{"x":3.175,"y":1.75,"g":"G"},{"x":3.23,"y":1.72,"g":"G"},{"x":2.99,"y":1.69,"g":"G"},{"x":3.08,"y":1.7,"g":"G"},{"x":2.66,"y":1.74,"g":"G"},{"x":3.53,"y":1.705,"g":"G"},{"x":3.7,"y":1.76,"g":"G"},{"x":3.65,"y":1.69,"g":"G"},{"x":3.81,"y":1.68,"g":"G"},{"x":3.87,"y":1.6,"g":"G"},{"x":3.74,"y":1.56,"g":"G"},{"x":3.81,"y":1.58,"g":"G"},{"x":3.39,"y":1.58,"g":"G"},{"x":3.5,"y":1.55,"g":"G"},{"x":3.61,"y":1.54,"g":"G"},{"x":3.81,"y":1.45,"g":"G"},{"x":4.0,"y":1.46,"g":"G"},{"x":4.01,"y":1.54,"g":"G"},{"x":4.495,"y":1.78,"g":"G"},{"x":4.26,"y":1.39,"g":"G"},{"x":4.55,"y":1.32,"g":"G"},{"x":4.79,"y":1.35,"g":"G"},{"x":3.93,"y":1.24,"g":"G"},{"x":5.2,"y":1.17,"g":"G"},{"x":4.83,"y":1.18,"g":"G"},{"x":4.89,"y":1.09,"g":"G"},{"x":4.78,"y":1.05,"g":"G"},{"x":4.245,"y":1.07,"g":"G"},{"x":4.32,"y":1.0,"g":"G"},{"x":4.39,"y":1.0,"g":"G"},{"x":4.12,"y":0.995,"g":"G"},{"x":4.86,"y":0.72,"g":"G"},{"x":3.15,"y":2.4,"g":"G"},{"x":3.22,"y":2.33,"g":"G"},{"x":3.35,"y":2.33,"g":"G"},{"x":3.15,"y":2.15,"g":"G"},{"x":3.25,"y":2.2,"g":"G"},{"x":3.05,"y":2.2,"g":"G"},{"x":3.13,"y":2.0,"g":"G"},{"x":3.05,"y":2.02,"g":"G"},{"x":3.12,"y":1.78,"g":"G"},{"x":3.58,"y":2.18,"g":"G"},{"x":3.72,"y":1.65,"g":"G"},{"x":3.78,"y":1.72,"g":"G"},{"x":3.92,"y":1.58,"g":"G"},{"x":3.68,"y":1.62,"g":"G"},{"x":3.45,"y":1.56,"g":"G"}
]},"resolve":{"scale":{"fill":"independent","shape":"independent"},"legend":{"fill":"independent","shape":"independent"}},"spacing":90,"bounds":"flush","vconcat":[
{"width":721,"height":495,"layer":[
{"data":{"name":"p1"},"mark":{"type":"point","filled":true,"opacity":1,"stroke":"#000","strokeWidth":1.4,"size":144},"encoding":{"x":{"field":"x","type":"quantitative","scale":{"domain":[1.2,7.2],"nice":false,"zero":false},"axis":{"values":[1.2,2.2,3.2,4.2,5.2,6.2,7.2],"format":".1f","labelPadding":13,"title":"Axis 1","titleX":657,"titleY":19,"titleAnchor":"start","titleAlign":"center","titleBaseline":"middle"}},"y":{"field":"y","type":"quantitative","scale":{"domain":[0,5],"nice":false},"axis":{"values":[0,1,2,3,4,5],"format":"d","labelPadding":9,"title":"Axis 2","titleX":-36,"titleY":231,"titleAlign":"center","titleBaseline":"middle","titleAngle":270}},"fill":{"field":"g","type":"nominal","scale":{"domain":["A","B","C"],"range":["#000000","#ffffff","#b9b9b9"]},"legend":{"legendX":134,"legendY":6,"labelFontWeight":"bold","symbolSize":144,"columnPadding":71,"encoding":{"symbols":{"update":{"stroke":{"value":"#000"},"strokeWidth":{"value":1.4}}}}}},"shape":{"field":"g","type":"nominal","scale":{"domain":["A","B","C"],"range":["circle","circle","circle"]}}}},
{"data":{"values":[{"t":"A","x":0.343,"y":4.85}]},"mark":{"type":"text","fontSize":36,"align":"left","baseline":"alphabetic","font":"Liberation Sans"},"encoding":{"x":{"field":"x","type":"quantitative"},"y":{"field":"y","type":"quantitative"},"text":{"field":"t"}}},
{"data":{"values":[{"t":"1.","x":2.67,"y":0.08},{"t":"communities","x":5.64,"y":0.08}]},"mark":{"type":"text","fontSize":32,"align":"left","baseline":"alphabetic","font":"Liberation Serif"},"encoding":{"x":{"field":"x","type":"quantitative"},"y":{"field":"y","type":"quantitative"},"text":{"field":"t"}}},
{"data":{"values":[{"t":"Festuca novae-zelandiae","x":2.93,"y":0.08}]},"mark":{"type":"text","fontSize":32,"fontStyle":"italic","align":"left","baseline":"alphabetic","font":"Liberation Serif"},"encoding":{"x":{"field":"x","type":"quantitative"},"y":{"field":"y","type":"quantitative"},"text":{"field":"t"}}}
]},
{"width":721,"height":493,"layer":[
{"data":{"name":"p2"},"mark":{"type":"point","filled":true,"opacity":1,"stroke":"#000","strokeWidth":1.4,"size":144},"encoding":{"x":{"field":"x","type":"quantitative","scale":{"domain":[1.2,7.2],"nice":false,"zero":false},"axis":{"values":[1.2,2.2,3.2,4.2,5.2,6.2,7.2],"format":".1f","labelPadding":13,"title":"Axis 1","titleX":652,"titleY":18,"titleAnchor":"start","titleAlign":"center","titleBaseline":"middle"}},"y":{"field":"y","type":"quantitative","scale":{"domain":[0,5],"nice":false},"axis":{"values":[0,1,2,3,4,5],"format":"d","labelPadding":9,"title":"Axis 2","titleX":-35,"titleY":225,"titleAlign":"center","titleBaseline":"middle","titleAngle":270}},"fill":{"field":"g","type":"nominal","scale":{"domain":["D","E","F"],"range":["#000000","#ffffff","#b9b9b9"]},"legend":{"legendX":127,"legendY":-4,"labelFontWeight":"bold","symbolSize":144,"columnPadding":69,"encoding":{"symbols":{"update":{"stroke":{"value":"#000"},"strokeWidth":{"value":1.4}}}}}},"shape":{"field":"g","type":"nominal","scale":{"domain":["D","E","F"],"range":["M0,-1.05L1,0.95L-1,0.95Z","M0,-1.05L1,0.95L-1,0.95Z","diamond"]}}}},
{"data":{"values":[{"t":"B","x":0.335,"y":4.95}]},"mark":{"type":"text","fontSize":36,"align":"left","baseline":"alphabetic","font":"Liberation Sans"},"encoding":{"x":{"field":"x","type":"quantitative"},"y":{"field":"y","type":"quantitative"},"text":{"field":"t"}}},
{"data":{"values":[{"t":"2.","x":3.24,"y":0.08},{"t":"communities","x":5.63,"y":0.08}]},"mark":{"type":"text","fontSize":32,"align":"left","baseline":"alphabetic","font":"Liberation Serif"},"encoding":{"x":{"field":"x","type":"quantitative"},"y":{"field":"y","type":"quantitative"},"text":{"field":"t"}}},
{"data":{"values":[{"t":"Festuca matthewsii","x":3.52,"y":0.08}]},"mark":{"type":"text","fontSize":32,"fontStyle":"italic","align":"left","baseline":"alphabetic","font":"Liberation Serif"},"encoding":{"x":{"field":"x","type":"quantitative"},"y":{"field":"y","type":"quantitative"},"text":{"field":"t"}}}
]},
{"width":721,"height":507,"layer":[
{"data":{"name":"p3"},"mark":{"type":"point","filled":true,"opacity":1,"stroke":"#000","strokeWidth":1.4,"size":144},"encoding":{"x":{"field":"x","type":"quantitative","scale":{"domain":[1.2,7.2],"nice":false,"zero":false},"axis":{"values":[1.2,2.2,3.2,4.2,5.2,6.2,7.2],"format":".1f","labelPadding":13,"title":"Axis 1","titleX":661,"titleY":18,"titleAnchor":"start","titleAlign":"center","titleBaseline":"middle"}},"y":{"field":"y","type":"quantitative","scale":{"domain":[0,5],"nice":false,"range":[507,14]},"axis":{"values":[0,1,2,3,4,5],"format":"d","labelPadding":9,"title":"Axis 2","titleX":-35,"titleY":244,"titleAlign":"center","titleBaseline":"middle","titleAngle":270}},"fill":{"field":"g","type":"nominal","scale":{"domain":["G","H"],"range":["#000000","#ffffff"]},"legend":{"legendX":232,"legendY":9,"symbolSize":144,"columnPadding":64,"columns":2,"encoding":{"symbols":{"update":{"stroke":{"value":"#000"},"strokeWidth":{"value":1.4}}}}}},"shape":{"field":"g","type":"nominal","scale":{"domain":["G","H"],"range":["square","square"]}}}},
{"data":{"values":[{"t":"C","x":0.434,"y":4.77}]},"mark":{"type":"text","fontSize":36,"align":"left","baseline":"alphabetic","font":"Liberation Sans"},"encoding":{"x":{"field":"x","type":"quantitative"},"y":{"field":"y","type":"quantitative"},"text":{"field":"t"}}},
{"data":{"values":[{"t":"3.","x":3.14,"y":0.125},{"t":"communities","x":5.53,"y":0.125}]},"mark":{"type":"text","fontSize":32,"align":"left","baseline":"alphabetic","font":"Liberation Serif"},"encoding":{"x":{"field":"x","type":"quantitative"},"y":{"field":"y","type":"quantitative"},"text":{"field":"t"}}},
{"data":{"values":[{"t":"Chionochloa rubra","x":3.42,"y":0.125}]},"mark":{"type":"text","fontSize":32,"fontStyle":"italic","align":"left","baseline":"alphabetic","font":"Liberation Serif"},"encoding":{"x":{"field":"x","type":"quantitative"},"y":{"field":"y","type":"quantitative"},"text":{"field":"t"}}}
]}
]}
